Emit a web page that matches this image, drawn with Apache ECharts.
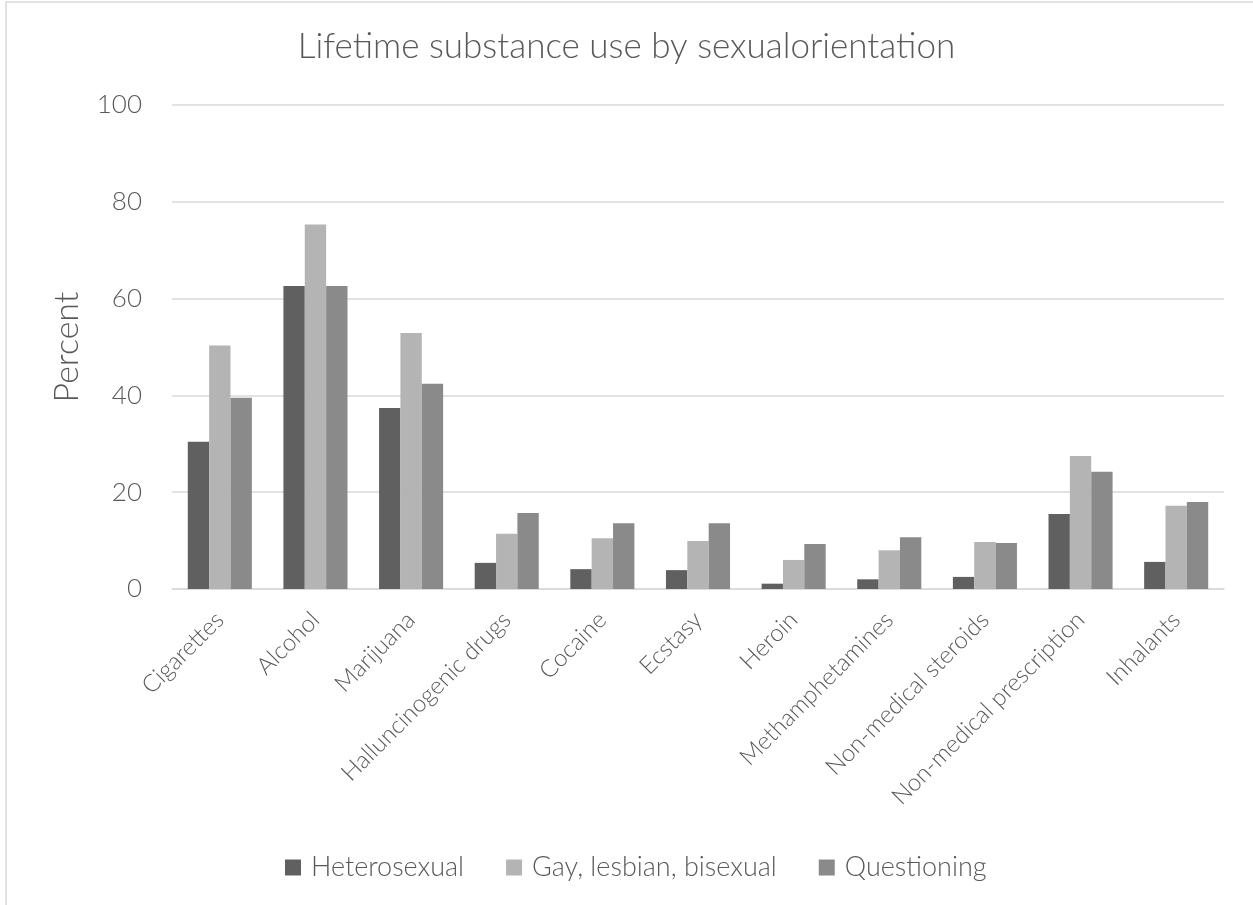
<!DOCTYPE html>
<html>
<head>
<meta charset="utf-8">
<script src="https://cdn.jsdelivr.net/npm/echarts@6/dist/echarts.min.js"></script>
<style>
html,body{margin:0;padding:0;background:#fff;}
#chart{width:1253px;height:905px;}
</style>
</head>
<body>
<div id="chart"></div>
<script>
const categories = ["Cigarettes","Alcohol","Marijuana","Halluncinogenic drugs","Cocaine","Ecstasy","Heroin","Methamphetamines","Non-medical steroids","Non-medical prescription","Inhalants"];
const heterosexual = [30.4, 62.6, 37.4, 5.4, 4.1, 3.9, 1.1, 2.0, 2.5, 15.5, 5.6];
const gayLesbianBisexual = [50.3, 75.3, 52.9, 11.4, 10.5, 9.9, 6.0, 8.0, 9.7, 27.5, 17.2];
const questioning = [39.5, 62.6, 42.4, 15.7, 13.6, 13.6, 9.3, 10.7, 9.5, 24.2, 18.0];
const seriesNames = ["Heterosexual","Gay, lesbian, bisexual","Questioning"];
const yTicks = [0,20,40,60,80,100];

const FONT = "Lato, 'Open Sans', sans-serif";
const TXT = '#595959';
const chart = echarts.init(document.getElementById('chart'));
const colors = ['#606060','#b4b4b4','#8a8a8a'];
const data = [heterosexual, gayLesbianBisexual, questioning];
chart.setOption({
  animation:false,
  title:{text:'Lifetime substance use by sexualorientation', left:'center', top:24,
    textStyle:{fontFamily:FONT, fontWeight:300, fontSize:35, color:TXT}},
  graphic:[{type:'rect', shape:{x:6,y:2,width:1300,height:1000}, style:{fill:'none', stroke:'#d9d9d9', lineWidth:1.5}, silent:true}],
  legend:{top:849, left:280, itemWidth:16, itemHeight:16, itemGap:42, icon:'rect',
    textStyle:{fontFamily:FONT, fontWeight:300, fontSize:27, lineHeight:26, color:TXT, padding:[0,0,0,5]},
    data:seriesNames},
  grid:{left:172, right:29, top:105, bottom:316, containLabel:false},
  xAxis:{type:'category', data:categories,
    axisLine:{lineStyle:{color:'#d9d9d9', width:1.5}}, axisTick:{show:false},
    axisLabel:{rotate:45, interval:0, fontFamily:FONT, fontWeight:300, fontSize:24, color:TXT, margin:27}},
  yAxis:{type:'value', min:yTicks[0], max:yTicks[yTicks.length-1], interval:20,
    name:'Percent', nameLocation:'middle', nameGap:88, nameRotate:90,
    nameTextStyle:{fontFamily:FONT, fontWeight:300, fontSize:34, color:TXT},
    axisLine:{show:false}, axisTick:{show:false},
    axisLabel:{fontFamily:FONT, fontWeight:300, fontSize:26, color:TXT, margin:30},
    splitLine:{lineStyle:{color:'#d9d9d9', width:1.5}}},
  series: seriesNames.map((n,i)=>({name:n, type:'bar', data:data[i], barGap:'0%', barCategoryGap:'33%',
    itemStyle:{color:colors[i]}}))
});
</script>
</body>
</html>
